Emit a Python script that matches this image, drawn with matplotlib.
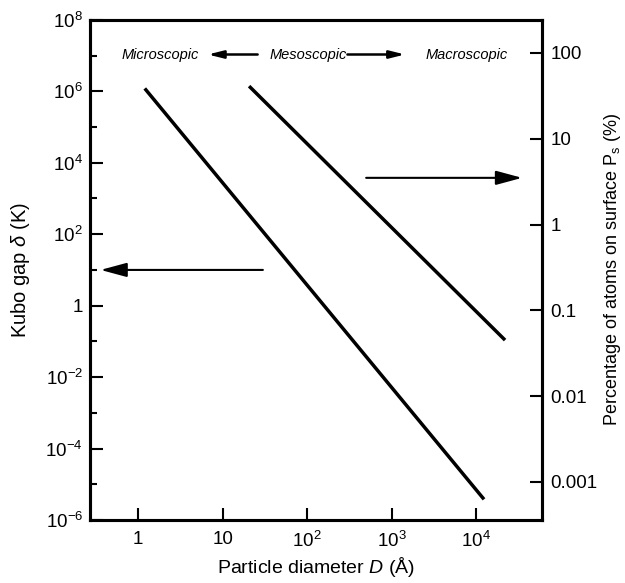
import numpy as np
import matplotlib.pyplot as plt
from matplotlib.ticker import FixedLocator, FixedFormatter, NullLocator, NullFormatter

plt.rcParams['font.family'] = ['Liberation Sans', 'DejaVu Sans']
plt.rcParams['mathtext.fontset'] = 'custom'
plt.rcParams['mathtext.rm'] = 'Liberation Sans'
plt.rcParams['mathtext.it'] = 'Liberation Sans:italic'

# Kubo gap line (left axis)
kubo_d = [1.2, 1.24e4]
kubo_gap = [1.2e6, 3.8e-6]

# surface atoms percentage (right axis)
surf_d = [20.6, 2.2e4]
surf_pct = [41.0, 0.045]

x_ticks = [1, 10, 100, 1000, 10000]
x_labels = ['1', '10', r'$10^2$', r'$10^3$', r'$10^4$']
y_ticks = [1e-6, 1e-4, 1e-2, 1, 1e2, 1e4, 1e6, 1e8]
y_labels = [r'$10^{-6}$', r'$10^{-4}$', r'$10^{-2}$', '1', r'$10^2$', r'$10^4$', r'$10^6$', r'$10^8$']
y_minor = [1e-5, 1e-3, 1e-1, 1e1, 1e3, 1e5, 1e7]
r_ticks = [0.001, 0.01, 0.1, 1, 10, 100]
r_labels = ['0.001', '0.01', '0.1', '1', '10', '100']

fig = plt.figure(figsize=(6.25, 5.83), dpi=100)
ax = fig.add_axes([0.144, 0.108, 0.723, 0.858])
ax.set_xscale('log')
ax.set_yscale('log')
ax.set_xlim(0.27, 6.0e4)
ax.set_ylim(1e-6, 1e8)

ax.plot(kubo_d, kubo_gap, color='black', lw=2.5, solid_capstyle='butt')

ax.xaxis.set_major_locator(FixedLocator(x_ticks))
ax.xaxis.set_major_formatter(FixedFormatter(x_labels))
ax.xaxis.set_minor_locator(NullLocator())
ax.yaxis.set_major_locator(FixedLocator(y_ticks))
ax.yaxis.set_major_formatter(FixedFormatter(y_labels))
ax.yaxis.set_minor_locator(FixedLocator(y_minor))
ax.yaxis.set_minor_formatter(NullFormatter())
ax.tick_params(which='major', direction='in', length=9, width=1.5, labelsize=13.5, pad=5)
ax.tick_params(which='minor', direction='in', length=5, width=1.5)
ax.tick_params(axis='x', pad=8)

ax.set_xlabel(r'Particle diameter $\mathit{D}$ (Å)', fontsize=14, labelpad=3)
ax.set_ylabel(r'Kubo gap $\delta$ (K)', fontsize=14.5, labelpad=10)

ax2 = ax.twinx()
ax2.set_yscale('log')
ax2.set_ylim(3.6e-4, 243)
ax2.plot(surf_d, surf_pct, color='black', lw=2.5, solid_capstyle='butt')
ax2.yaxis.set_major_locator(FixedLocator(r_ticks))
ax2.yaxis.set_major_formatter(FixedFormatter(r_labels))
ax2.yaxis.set_minor_locator(NullLocator())
ax2.yaxis.set_minor_formatter(NullFormatter())
ax2.tick_params(which='major', direction='in', length=9, width=1.5, labelsize=13.5, pad=6)
ax2.set_ylabel(r'Percentage of atoms on surface P$_\mathrm{s}$ (%)', fontsize=13, labelpad=3)

for a in (ax, ax2):
    for s in a.spines.values():
        s.set_linewidth(2.2)

# arrows pointing to each axis
big = dict(arrowstyle='-|>,head_length=1.0,head_width=0.27', color='black', lw=1.5,
           mutation_scale=16, shrinkA=0, shrinkB=0)
ax.annotate('', xy=(0.36, 10), xytext=(30, 10), arrowprops=big)
ax2.annotate('', xy=(3.5e4, 3.5), xytext=(500, 3.5), arrowprops=big)

# size regime labels
ty = 1.07e7
small = dict(arrowstyle='-|>,head_length=1.0,head_width=0.25', color='black', lw=1.8,
             mutation_scale=9, shrinkA=0, shrinkB=0)
ax.text(1.82, ty, 'Microscopic', style='italic', fontsize=10.5, ha='center', va='center')
ax.annotate('', xy=(6.7, ty), xytext=(26, ty), arrowprops=small)
ax.text(103, ty, 'Mesoscopic', style='italic', fontsize=10.5, ha='center', va='center')
ax.annotate('', xy=(1440, ty), xytext=(300, ty), arrowprops=small)
ax.text(7800, ty, 'Macroscopic', style='italic', fontsize=10.5, ha='center', va='center')

fig.savefig('out.png', dpi=100)
